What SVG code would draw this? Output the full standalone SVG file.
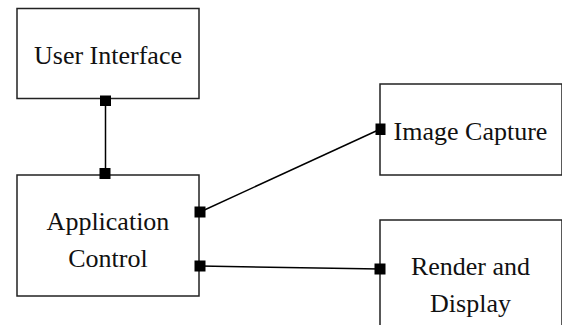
<svg xmlns="http://www.w3.org/2000/svg" width="562" height="325" viewBox="0 0 562 325">
  <style>
    .box { fill: #ffffff; stroke: #222222; stroke-width: 1.5; }
    .label { font-family: "Liberation Serif", "Times New Roman", serif; font-size: 26px; fill: #111111; text-anchor: middle; }
    .wire { stroke: #000000; stroke-width: 1.5; fill: none; }
    .port { fill: #000000; }
  </style>
  <rect width="562" height="325" fill="#ffffff"/>

  <g id="user-interface">
    <rect class="box" x="17" y="8.5" width="182" height="90"/>
    <text class="label" x="108" y="64">User Interface</text>
  </g>

  <g id="application-control">
    <rect class="box" x="17" y="175" width="182" height="121"/>
    <text class="label" x="108" y="230">Application</text>
    <text class="label" x="108" y="266.5">Control</text>
  </g>

  <g id="image-capture">
    <rect class="box" x="380" y="84" width="182" height="91"/>
    <text class="label" x="470.5" y="140">Image Capture</text>
  </g>

  <g id="render-and-display">
    <rect class="box" x="380" y="220" width="182" height="110"/>
    <text class="label" x="470.5" y="275">Render and</text>
    <text class="label" x="470.5" y="311.5">Display</text>
  </g>

  <g id="connectors">
    <line class="wire" x1="105.5" y1="100.5" x2="105.5" y2="173.5"/>
    <line class="wire" x1="200" y1="212" x2="380.5" y2="129"/>
    <line class="wire" x1="200" y1="266" x2="380" y2="269"/>
    <rect class="port" x="100" y="95.5" width="11" height="10.5"/>
    <rect class="port" x="99.5" y="168" width="11" height="11"/>
    <rect class="port" x="194.5" y="206.5" width="11" height="11"/>
    <rect class="port" x="194.5" y="260.5" width="11" height="11"/>
    <rect class="port" x="375.5" y="123.5" width="10" height="11.5"/>
    <rect class="port" x="374.5" y="263.5" width="11" height="11"/>
  </g>
</svg>
